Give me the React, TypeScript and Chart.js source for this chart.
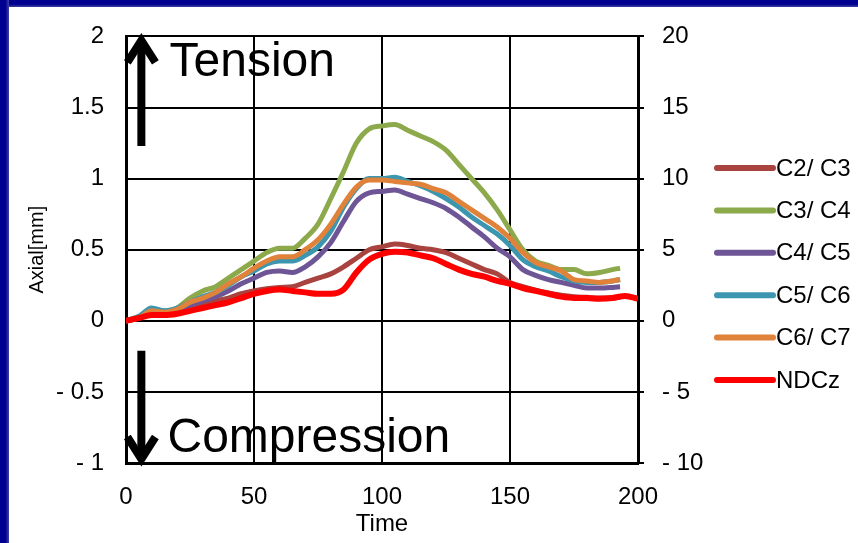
import React, { useEffect, useRef } from "react";
import { Chart, registerables } from "chart.js";

Chart.register(...registerables);

const SERIES_NAMES = ["C2/ C3", "C3/ C4", "C4/ C5", "C5/ C6", "C6/ C7", "NDCz"];
const SERIES_COLORS = ["#A8433F", "#8CAA4B", "#6E5596", "#3C96AF", "#E0823A", "#FF0000"];

const TIME_C = [0, 5, 10, 15, 20, 25, 30, 35, 40, 45, 50, 55, 60, 65, 70, 75, 80, 85, 90, 95, 100, 105, 110, 115, 120, 125, 130, 135, 140, 145, 150, 155, 160, 165, 170, 175, 180, 185, 190, 193];
const TIME_N = [0, 5, 10, 15, 20, 25, 30, 35, 40, 45, 50, 55, 60, 65, 70, 75, 80, 85, 90, 95, 100, 105, 110, 115, 120, 125, 130, 135, 140, 145, 150, 155, 160, 165, 170, 175, 180, 185, 190, 195, 200];

const C2C3 = [0, 0.02, 0.06, 0.06, 0.07, 0.1, 0.12, 0.14, 0.16, 0.19, 0.21, 0.225, 0.235, 0.24, 0.27, 0.3, 0.33, 0.38, 0.44, 0.5, 0.52, 0.54, 0.53, 0.51, 0.5, 0.48, 0.44, 0.4, 0.36, 0.33, 0.27, 0.24, 0.215, 0.195, 0.18, 0.17, 0.165, 0.16, 0.16, 0.165];
const C3C4 = [0, 0.03, 0.08, 0.07, 0.09, 0.16, 0.21, 0.24, 0.3, 0.36, 0.42, 0.48, 0.51, 0.51, 0.58, 0.68, 0.86, 1.05, 1.25, 1.35, 1.37, 1.38, 1.34, 1.3, 1.26, 1.2, 1.1, 1.0, 0.9, 0.78, 0.64, 0.5, 0.42, 0.39, 0.36, 0.36, 0.33, 0.34, 0.36, 0.37];
const C4C5 = [0, 0.02, 0.07, 0.06, 0.07, 0.11, 0.14, 0.17, 0.21, 0.26, 0.3, 0.34, 0.35, 0.34, 0.38, 0.45, 0.55, 0.7, 0.84, 0.9, 0.91, 0.92, 0.89, 0.86, 0.83, 0.79, 0.73, 0.66, 0.59, 0.51, 0.45, 0.36, 0.32, 0.29, 0.27, 0.25, 0.23, 0.23, 0.235, 0.24];
const C5C6 = [0, 0.03, 0.09, 0.07, 0.09, 0.13, 0.17, 0.2, 0.25, 0.31, 0.35, 0.4, 0.42, 0.42, 0.46, 0.52, 0.63, 0.8, 0.93, 1.0, 1.0, 1.01, 0.98, 0.95, 0.91, 0.86, 0.8, 0.73, 0.67, 0.61, 0.53, 0.43, 0.38, 0.35, 0.31, 0.28, 0.27, 0.27, 0.28, 0.29];
const C6C7 = [0, 0.02, 0.07, 0.06, 0.08, 0.13, 0.16, 0.2, 0.26, 0.31, 0.37, 0.42, 0.45, 0.45, 0.5, 0.57, 0.68, 0.82, 0.94, 0.99, 0.99, 0.98, 0.97, 0.96, 0.93, 0.9, 0.84, 0.78, 0.72, 0.66, 0.58, 0.48, 0.41, 0.38, 0.35, 0.29, 0.28, 0.27, 0.28, 0.29];
const NDCZ = [0, 0.02, 0.04, 0.04, 0.05, 0.07, 0.09, 0.11, 0.13, 0.16, 0.19, 0.21, 0.22, 0.21, 0.2, 0.19, 0.19, 0.22, 0.34, 0.43, 0.47, 0.485, 0.48, 0.46, 0.44, 0.4, 0.36, 0.33, 0.31, 0.28, 0.26, 0.23, 0.21, 0.19, 0.17, 0.16, 0.16, 0.155, 0.16, 0.175, 0.155];

const LEFT_TICKS = { min: -1, max: 2, step: 0.5 };
const RIGHT_TICKS = { min: -10, max: 20, step: 5 };
const X_TICKS = { min: 0, max: 200, step: 50 };

const FONT = "'Liberation Sans', Arial, sans-serif";

function fmt(v: number): string {
  if (v < 0) return "- " + String(Math.abs(v));
  return String(v);
}

const framePlugin = {
  id: "frame",
  beforeDraw(chart: any) {
    const { ctx, width, height } = chart;
    ctx.save();
    ctx.fillStyle = "#fff";
    ctx.fillRect(0, 0, width, height);
    const gTop = ctx.createLinearGradient(0, 0, 0, 7);
    gTop.addColorStop(0, "#000090");
    gTop.addColorStop(0.6, "#000090");
    gTop.addColorStop(1, "#4040a8");
    ctx.fillStyle = gTop;
    ctx.fillRect(0, 0, width, 7);
    const gLeft = ctx.createLinearGradient(0, 0, 9, 0);
    gLeft.addColorStop(0, "#000090");
    gLeft.addColorStop(0.6, "#000090");
    gLeft.addColorStop(1, "#4040a8");
    ctx.fillStyle = gLeft;
    ctx.fillRect(0, 0, 9, height);
    ctx.restore();
  },
};

const annotPlugin = {
  id: "annot",
  afterDatasetsDraw(chart: any) {
    const { ctx } = chart;
    const xs = chart.scales.x;
    const ys = chart.scales.y;
    ctx.save();
    ctx.strokeStyle = "#000";
    ctx.fillStyle = "#000";
    ctx.lineWidth = 8;
    ctx.lineCap = "butt";
    ctx.lineJoin = "miter";
    const ax = xs.getPixelForValue(6);
    // up arrow
    const upBottom = ys.getPixelForValue(1.23);
    const upTop = ys.getPixelForValue(2);
    ctx.beginPath();
    ctx.moveTo(ax, upBottom);
    ctx.lineTo(ax, upTop + 6);
    ctx.stroke();
    ctx.beginPath();
    ctx.moveTo(ax - 14, upTop + 26);
    ctx.lineTo(ax, upTop + 4);
    ctx.lineTo(ax + 14, upTop + 26);
    ctx.stroke();
    // down arrow
    const dnTop = ys.getPixelForValue(-0.21);
    const dnBottom = ys.getPixelForValue(-1);
    ctx.beginPath();
    ctx.moveTo(ax, dnTop);
    ctx.lineTo(ax, dnBottom - 6);
    ctx.stroke();
    ctx.beginPath();
    ctx.moveTo(ax - 14, dnBottom - 26);
    ctx.lineTo(ax, dnBottom - 4);
    ctx.lineTo(ax + 14, dnBottom - 26);
    ctx.stroke();
    // labels
    ctx.font = "48px " + FONT;
    ctx.textBaseline = "alphabetic";
    ctx.textAlign = "left";
    ctx.fillText("Tension", xs.getPixelForValue(17), ys.getPixelForValue(1.725));
    ctx.fillText("Compression", xs.getPixelForValue(16.2), ys.getPixelForValue(-0.92));

    // legend
    const lx0 = 717;
    const lx1 = 773;
    let ly = 168;
    ctx.font = "24px " + FONT;
    ctx.textBaseline = "middle";
    ctx.lineCap = "round";
    chart.data.datasets.forEach((ds: any) => {
      ctx.strokeStyle = ds.borderColor;
      ctx.lineWidth = 6;
      ctx.beginPath();
      ctx.moveTo(lx0, ly);
      ctx.lineTo(lx1, ly);
      ctx.stroke();
      ctx.fillStyle = "#000";
      ctx.fillText(ds.label, lx1 + 3, ly + 1);
      ly += 42.4;
    });
    ctx.restore();
  },
};

export default function App() {
  const ref = useRef<HTMLCanvasElement | null>(null);
  useEffect(() => {
    if (!ref.current) return;
    const seriesVals = [C2C3, C3C4, C4C5, C5C6, C6C7];
    const datasets: any[] = seriesVals.map((vals, i) => ({
      label: SERIES_NAMES[i],
      data: TIME_C.map((t, j) => ({ x: t, y: vals[j] })),
      borderColor: SERIES_COLORS[i],
      backgroundColor: SERIES_COLORS[i],
      borderWidth: 5,
      pointRadius: 0,
      tension: 0.4,
      cubicInterpolationMode: "monotone",
      fill: false,
      yAxisID: "y",
      order: 6 - i,
    }));
    datasets.push({
      label: SERIES_NAMES[5],
      data: TIME_N.map((t, j) => ({ x: t, y: NDCZ[j] })),
      borderColor: SERIES_COLORS[5],
      backgroundColor: SERIES_COLORS[5],
      borderWidth: 6,
      pointRadius: 0,
      tension: 0.4,
      cubicInterpolationMode: "monotone",
      fill: false,
      yAxisID: "y",
      order: 0,
    });
    const tickFont = { family: FONT, size: 24 };
    const chart = new Chart(ref.current, {
      type: "line",
      data: { datasets },
      plugins: [framePlugin, annotPlugin],
      options: {
        responsive: false,
        animation: false,
        devicePixelRatio: 1,
        layout: { padding: { left: 0, right: 130, top: 35, bottom: 0 } },
        plugins: { legend: { display: false }, tooltip: { enabled: false } },
        scales: {
          x: {
            type: "linear",
            min: X_TICKS.min,
            max: X_TICKS.max,
            ticks: { stepSize: X_TICKS.step, color: "#000", font: tickFont, padding: 20, maxRotation: 0 },
            grid: { color: "#000", lineWidth: 2, drawTicks: false },
            border: { color: "#000", width: 3 },
            title: { display: true, text: "Time", color: "#000", font: { family: FONT, size: 24 }, padding: { top: 0, bottom: 4 } },
            afterFit: (s: any) => { s.height = 80; },
          },
          y: {
            type: "linear",
            position: "left",
            min: LEFT_TICKS.min,
            max: LEFT_TICKS.max,
            ticks: { stepSize: LEFT_TICKS.step, color: "#000", font: tickFont, padding: 22, callback: (v: any) => fmt(Number(v)) },
            grid: { color: "#000", lineWidth: 2, drawTicks: false },
            border: { color: "#000", width: 3 },
            title: { display: true, text: "Axial[mm]", color: "#000", font: { family: FONT, size: 20 }, padding: { top: 25, bottom: 0 } },
            afterFit: (s: any) => { s.width = 126; },
          },
          y2: {
            type: "linear",
            position: "right",
            min: RIGHT_TICKS.min,
            max: RIGHT_TICKS.max,
            ticks: { stepSize: RIGHT_TICKS.step, color: "#000", font: tickFont, padding: 18, callback: (v: any) => fmt(Number(v)) },
            grid: { display: true, drawOnChartArea: false, color: "#000", lineWidth: 2, tickLength: 6 },
            border: { color: "#000", width: 3 },
            afterFit: (s: any) => { s.width = 90; },
          },
        },
      } as any,
    });
    return () => chart.destroy();
  }, []);
  return (
    <div style={{ position: "absolute", left: 0, top: 0, width: 858, height: 543, background: "#fff", overflow: "hidden" }}>
      <canvas ref={ref} width={858} height={543} style={{ display: "block", width: 858, height: 543 }} />
    </div>
  );
}
